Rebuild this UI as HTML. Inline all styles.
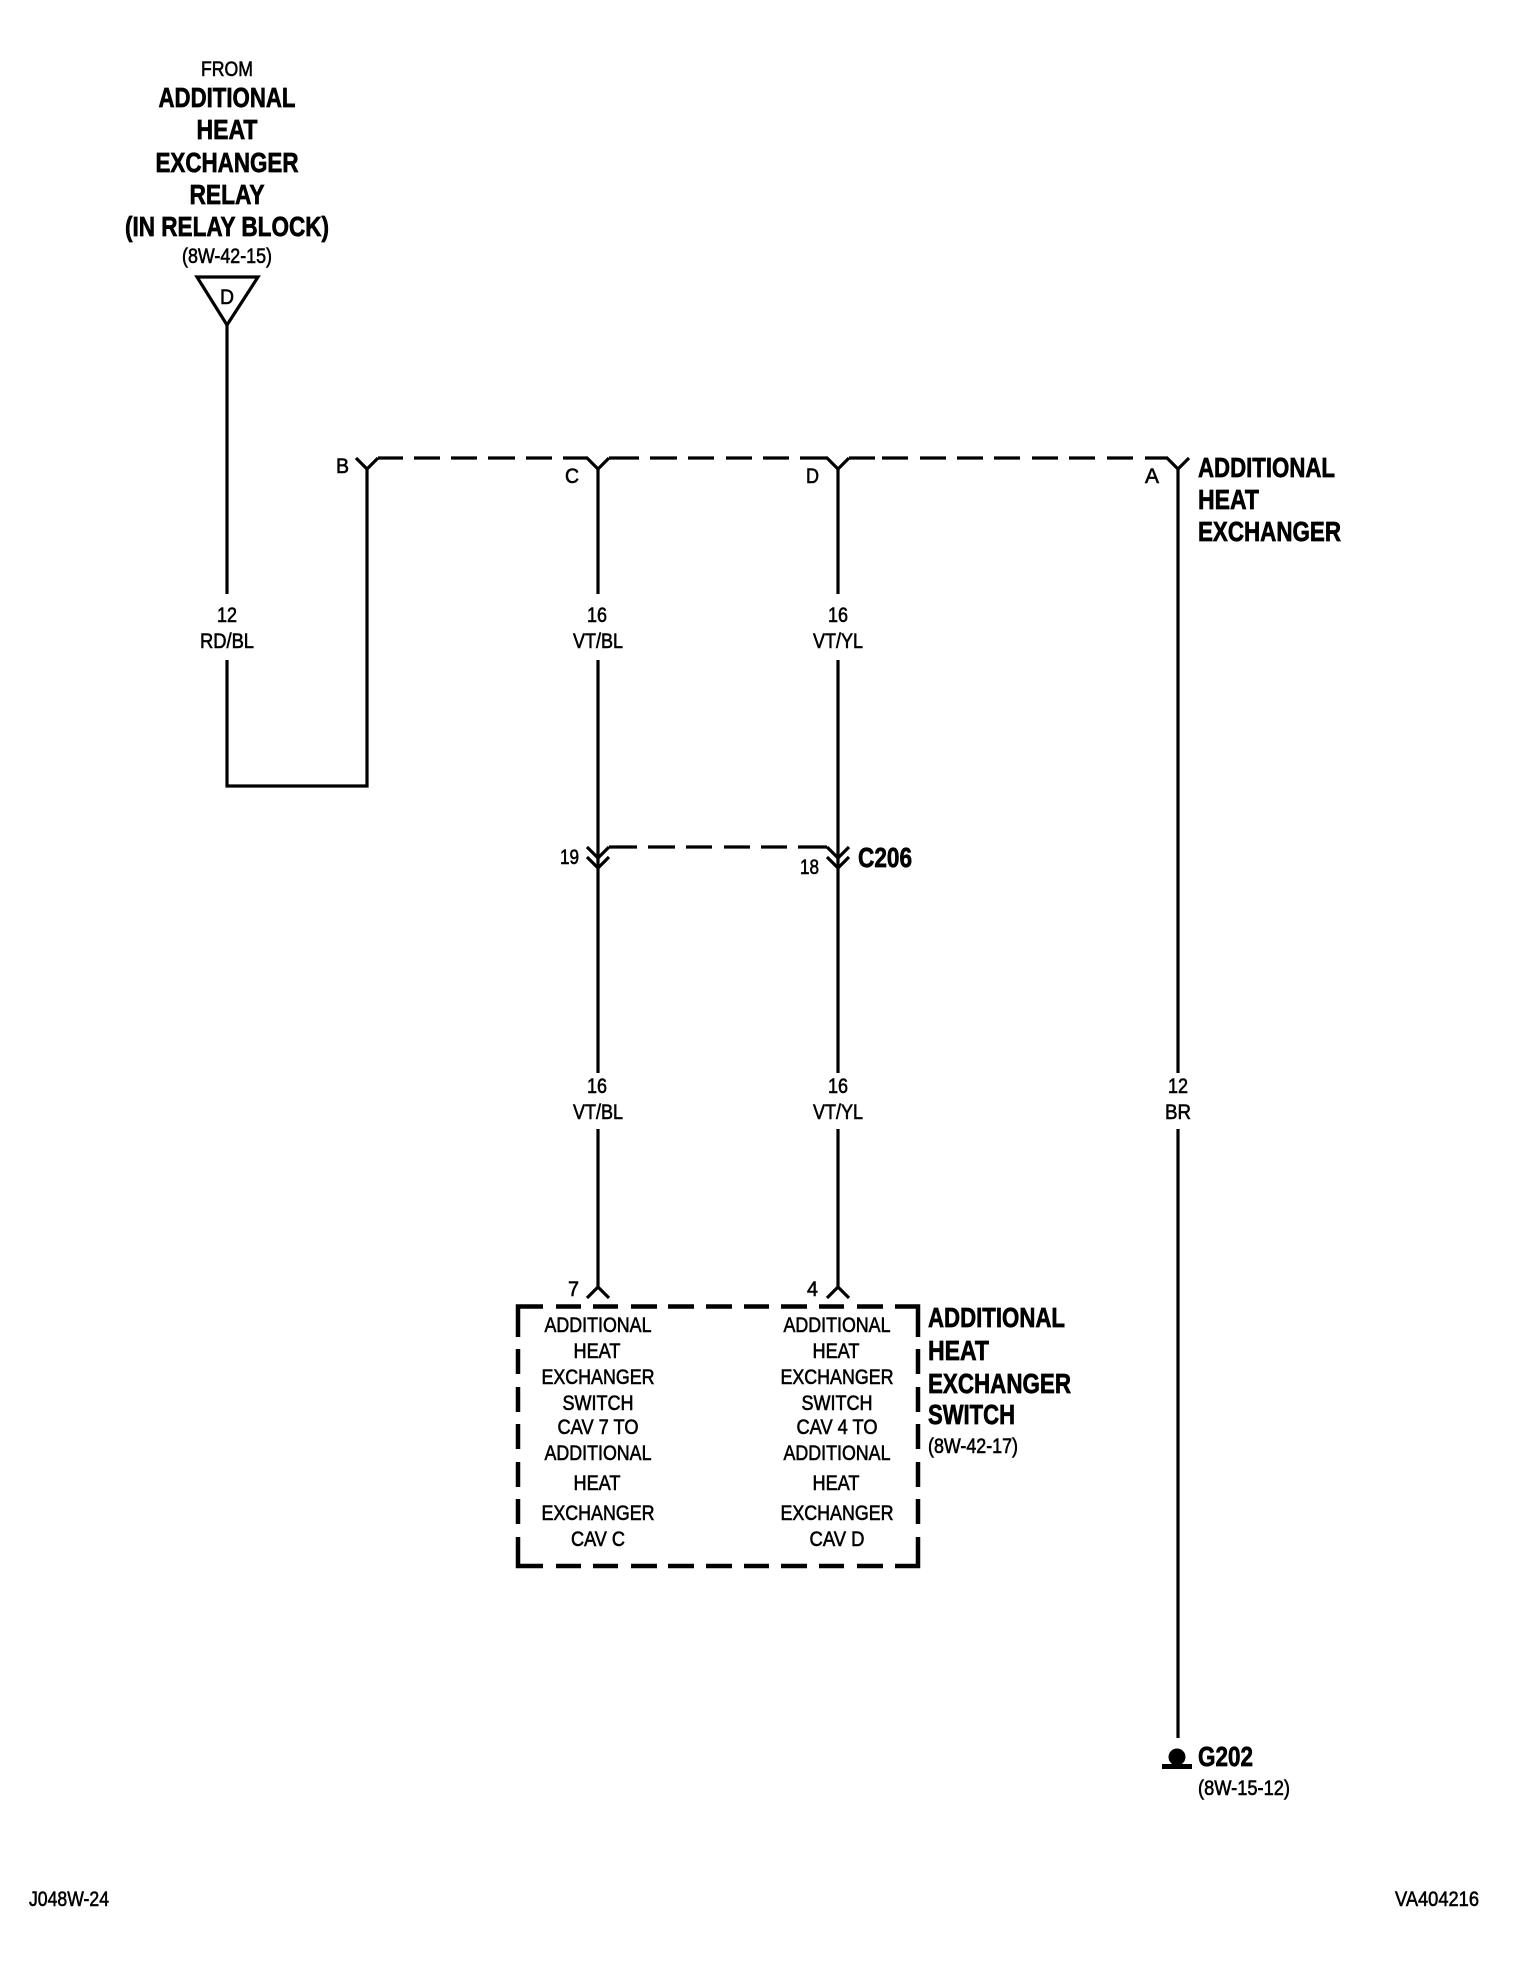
<!DOCTYPE html>
<html><head><meta charset="utf-8"><style>
html,body{margin:0;padding:0;background:#fff}
svg{display:block}
text{font-family:"Liberation Sans",sans-serif;fill:#000}
.b{font-size:28px;font-weight:bold;stroke:#000;stroke-width:.7px}
.r{font-size:21px;stroke:#000;stroke-width:.6px}
.m{text-anchor:middle}
.w{fill:none;stroke:#000;stroke-width:3.2}
.bx{fill:none;stroke:#000;stroke-width:4.5}
</style></head><body>
<svg width="1520" height="1966" viewBox="0 0 1520 1966" xmlns="http://www.w3.org/2000/svg">
<rect width="1520" height="1966" fill="#fff"/>
<!-- top-left -->
<text class="r m" x="227" y="76" textLength="52" lengthAdjust="spacingAndGlyphs">FROM</text>
<text class="b m" x="227" y="107" textLength="137" lengthAdjust="spacingAndGlyphs">ADDITIONAL</text>
<text class="b m" x="227" y="139" textLength="61" lengthAdjust="spacingAndGlyphs">HEAT</text>
<text class="b m" x="227" y="172" textLength="143" lengthAdjust="spacingAndGlyphs">EXCHANGER</text>
<text class="b m" x="227" y="204" textLength="75" lengthAdjust="spacingAndGlyphs">RELAY</text>
<text class="b m" x="227" y="236" textLength="204" lengthAdjust="spacingAndGlyphs">(IN RELAY BLOCK)</text>
<text class="r m" x="227" y="263" textLength="90" lengthAdjust="spacingAndGlyphs">(8W-42-15)</text>
<path class="w" d="M197 277H258L227 325Z"/>
<text class="r m" x="227" y="304" textLength="14" lengthAdjust="spacingAndGlyphs">D</text>
<!-- wire 1 -->
<path class="w" d="M227 325V594M227 660V786H367V469"/>
<text class="r m" x="227" y="622" textLength="20" lengthAdjust="spacingAndGlyphs">12</text>
<text class="r m" x="227" y="648" textLength="54" lengthAdjust="spacingAndGlyphs">RD/BL</text>
<!-- horizontal dashed -->
<path class="w" d="M356 458L367 469L378 458"/>
<path class="w" d="M378 458H403M414 458H440M451 458H477M488 458H515M526 458H552M563 458H588"/>
<path class="w" d="M587 458L598 469L609 458"/>
<path class="w" d="M609 458H639M650 458H677M688 458H714M726 458H752M763 458H789M800 458H828"/>
<path class="w" d="M827 458L838 469L849 458"/>
<path class="w" d="M849 458H875M882 458H908M920 458H946M957 458H983M994 458H1020M1032 458H1058M1069 458H1095M1107 458H1133M1145 458H1168"/>
<path class="w" d="M1167 458L1178 469L1189 458"/>
<text class="r" x="336" y="473" textLength="13" lengthAdjust="spacingAndGlyphs">B</text>
<text class="r" x="565" y="483" textLength="14" lengthAdjust="spacingAndGlyphs">C</text>
<text class="r" x="806" y="483" textLength="13" lengthAdjust="spacingAndGlyphs">D</text>
<text class="r" x="1145" y="483" textLength="14" lengthAdjust="spacingAndGlyphs">A</text>
<text class="b" x="1198" y="477" textLength="137" lengthAdjust="spacingAndGlyphs">ADDITIONAL</text>
<text class="b" x="1198" y="509" textLength="61" lengthAdjust="spacingAndGlyphs">HEAT</text>
<text class="b" x="1198" y="541" textLength="143" lengthAdjust="spacingAndGlyphs">EXCHANGER</text>
<!-- C wire -->
<path class="w" d="M598 469V594M598 660V1073M598 1129V1287"/>
<text class="r m" x="597" y="622" textLength="20" lengthAdjust="spacingAndGlyphs">16</text>
<text class="r m" x="598" y="648" textLength="50" lengthAdjust="spacingAndGlyphs">VT/BL</text>
<text class="r m" x="597" y="1093" textLength="20" lengthAdjust="spacingAndGlyphs">16</text>
<text class="r m" x="598" y="1119" textLength="50" lengthAdjust="spacingAndGlyphs">VT/BL</text>
<!-- D wire -->
<path class="w" d="M838 469V594M838 660V1073M838 1129V1287"/>
<text class="r m" x="838" y="622" textLength="20" lengthAdjust="spacingAndGlyphs">16</text>
<text class="r m" x="838" y="648" textLength="50" lengthAdjust="spacingAndGlyphs">VT/YL</text>
<text class="r m" x="838" y="1093" textLength="20" lengthAdjust="spacingAndGlyphs">16</text>
<text class="r m" x="838" y="1119" textLength="50" lengthAdjust="spacingAndGlyphs">VT/YL</text>
<!-- C206 -->
<path class="w" d="M587 847L598 858L609 847M587 857L598 868L609 857"/>
<path class="w" d="M827 847L838 858L849 847M827 857L838 868L849 857"/>
<path class="w" d="M609 847H637M648 847H675M686 847H712M724 847H750M761 847H787M798 847H827"/>
<text class="r" x="560" y="864" textLength="19" lengthAdjust="spacingAndGlyphs">19</text>
<text class="r" x="800" y="874" textLength="19" lengthAdjust="spacingAndGlyphs">18</text>
<text class="b" x="858" y="867" textLength="54" lengthAdjust="spacingAndGlyphs">C206</text>
<!-- A wire -->
<path class="w" d="M1178 469V1073M1178 1129V1738"/>
<text class="r m" x="1178" y="1093" textLength="20" lengthAdjust="spacingAndGlyphs">12</text>
<text class="r m" x="1178" y="1119" textLength="26" lengthAdjust="spacingAndGlyphs">BR</text>
<!-- ground -->
<circle cx="1177" cy="1757" r="8.5" fill="#000"/>
<rect x="1162" y="1764" width="30" height="5" fill="#000"/>
<text class="b" x="1198" y="1766" textLength="55" lengthAdjust="spacingAndGlyphs">G202</text>
<text class="r" x="1198" y="1795" textLength="92" lengthAdjust="spacingAndGlyphs">(8W-15-12)</text>
<!-- forks at box -->
<path class="w" d="M587 1298L598 1287L609 1298"/>
<path class="w" d="M827 1298L838 1287L849 1298"/>
<text class="r" x="568" y="1296" textLength="11" lengthAdjust="spacingAndGlyphs">7</text>
<text class="r" x="807" y="1296" textLength="11" lengthAdjust="spacingAndGlyphs">4</text>
<!-- box -->
<path class="bx" d="M518 1337V1306.5H543M556 1306.5H581M593 1306.5H618M631 1306.5H657M668 1306.5H694M706 1306.5H732M744 1306.5H769M781 1306.5H807M819 1306.5H844M857 1306.5H883M895 1306.5H918V1337"/>
<path class="bx" d="M518 1537V1566H543M556 1566H581M593 1566H618M631 1566H657M668 1566H694M706 1566H732M744 1566H769M781 1566H807M819 1566H844M857 1566H883M895 1566H918V1537"/>
<path class="bx" d="M518 1349V1374M518 1387V1412M518 1424V1449M518 1462V1487M518 1499V1524"/>
<path class="bx" d="M918 1349V1374M918 1387V1412M918 1424V1449M918 1462V1487M918 1499V1524"/>
<!-- box text left -->
<text class="r m" x="598" y="1332" textLength="107" lengthAdjust="spacingAndGlyphs">ADDITIONAL</text>
<text class="r m" x="597" y="1358" textLength="47" lengthAdjust="spacingAndGlyphs">HEAT</text>
<text class="r m" x="598" y="1384" textLength="113" lengthAdjust="spacingAndGlyphs">EXCHANGER</text>
<text class="r m" x="598" y="1410" textLength="71" lengthAdjust="spacingAndGlyphs">SWITCH</text>
<text class="r m" x="598" y="1434" textLength="81" lengthAdjust="spacingAndGlyphs">CAV 7 TO</text>
<text class="r m" x="598" y="1460" textLength="107" lengthAdjust="spacingAndGlyphs">ADDITIONAL</text>
<text class="r m" x="597" y="1490" textLength="47" lengthAdjust="spacingAndGlyphs">HEAT</text>
<text class="r m" x="598" y="1520" textLength="113" lengthAdjust="spacingAndGlyphs">EXCHANGER</text>
<text class="r m" x="598" y="1546" textLength="54" lengthAdjust="spacingAndGlyphs">CAV C</text>
<!-- box text right -->
<text class="r m" x="837" y="1332" textLength="107" lengthAdjust="spacingAndGlyphs">ADDITIONAL</text>
<text class="r m" x="836" y="1358" textLength="47" lengthAdjust="spacingAndGlyphs">HEAT</text>
<text class="r m" x="837" y="1384" textLength="113" lengthAdjust="spacingAndGlyphs">EXCHANGER</text>
<text class="r m" x="837" y="1410" textLength="71" lengthAdjust="spacingAndGlyphs">SWITCH</text>
<text class="r m" x="837" y="1434" textLength="81" lengthAdjust="spacingAndGlyphs">CAV 4 TO</text>
<text class="r m" x="837" y="1460" textLength="107" lengthAdjust="spacingAndGlyphs">ADDITIONAL</text>
<text class="r m" x="836" y="1490" textLength="47" lengthAdjust="spacingAndGlyphs">HEAT</text>
<text class="r m" x="837" y="1520" textLength="113" lengthAdjust="spacingAndGlyphs">EXCHANGER</text>
<text class="r m" x="837" y="1546" textLength="55" lengthAdjust="spacingAndGlyphs">CAV D</text>
<!-- right label -->
<text class="b" x="928" y="1327" textLength="137" lengthAdjust="spacingAndGlyphs">ADDITIONAL</text>
<text class="b" x="928" y="1360" textLength="61" lengthAdjust="spacingAndGlyphs">HEAT</text>
<text class="b" x="928" y="1393" textLength="143" lengthAdjust="spacingAndGlyphs">EXCHANGER</text>
<text class="b" x="928" y="1424" textLength="87" lengthAdjust="spacingAndGlyphs">SWITCH</text>
<text class="r" x="928" y="1453" textLength="90" lengthAdjust="spacingAndGlyphs">(8W-42-17)</text>
<!-- footer -->
<text class="r" x="29" y="1906" textLength="80" lengthAdjust="spacingAndGlyphs">J048W-24</text>
<text class="r" x="1395" y="1906" textLength="84" lengthAdjust="spacingAndGlyphs">VA404216</text>
</svg>
</body></html>
